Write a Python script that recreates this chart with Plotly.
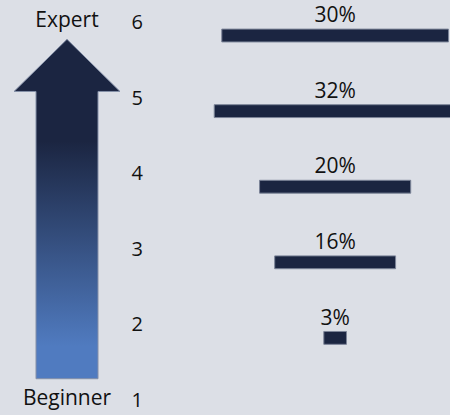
import plotly.graph_objects as go

# skill levels (1 = beginner, 6 = expert) and share of people at each level
levels = [6, 5, 4, 3, 2]
shares = [30, 32, 20, 16, 3]
share_labels = ['30%', '32%', '20%', '16%', '3%']
tick_vals = [1, 2, 3, 4, 5, 6]
tick_text = ['1', '2', '3', '4', '5', '6']

# arrow outline on the left (x in pixels of the side panel, y in level units)
arrow_x = [36, 36, 14, 67, 120, 98, 98, 36]
arrow_y = [1.28, 5.08, 5.08, 5.77, 5.08, 5.08, 1.28, 1.28]

NAVY = '#1b2541'
BLUE = '#507bc0'
BG = '#dcdfe6'
FONT = 'Open Sans'

fig = go.Figure()

# centred funnel-style bars
fig.add_trace(go.Bar(
    y=[lv - 0.18 for lv in levels],
    x=shares,
    base=[-s / 2 for s in shares],
    orientation='h',
    width=0.17,
    marker=dict(color=NAVY, line=dict(color='#7c8498', width=1)),
    hoverinfo='skip',
    showlegend=False,
))

# percentage labels above the bars
fig.add_trace(go.Scatter(
    x=[0] * len(levels),
    y=[lv + 0.065 for lv in levels],
    mode='text',
    text=share_labels,
    textfont=dict(family=FONT, size=21, color='#111111'),
    cliponaxis=False,
    hoverinfo='skip',
    showlegend=False,
))

# gradient arrow
fig.add_trace(go.Scatter(
    x=arrow_x, y=arrow_y,
    xaxis='x2', yaxis='y',
    mode='lines',
    fill='toself',
    line=dict(color='#8590a8', width=1),
    fillgradient=dict(
        type='vertical',
        start=1.28, stop=5.77,
        colorscale=[[0, BLUE], [0.095, BLUE], [0.7, NAVY], [1, NAVY]],
    ),
    hoverinfo='skip',
    showlegend=False,
))

# Expert / Beginner labels
fig.add_trace(go.Scatter(
    x=[67, 67], y=[6, 1],
    xaxis='x2', yaxis='y',
    mode='text',
    text=['Expert', 'Beginner'],
    textfont=dict(family=FONT, size=21, color='#111111'),
    cliponaxis=False,
    hoverinfo='skip',
    showlegend=False,
))

fig.update_layout(
    width=450, height=415,
    margin=dict(l=0, r=0, t=0, b=0),
    paper_bgcolor=BG, plot_bgcolor=BG,
    font=dict(family=FONT, size=20, color='#111111'),
    xaxis=dict(domain=[150 / 450, 1], range=[-24.5, 15.2], visible=False, fixedrange=True),
    xaxis2=dict(domain=[0, 150 / 450], range=[0, 150], visible=False, anchor='y', fixedrange=True),
    yaxis=dict(range=[0.8, 6.29], tickvals=tick_vals, ticktext=tick_text,
               showgrid=False, zeroline=False, showline=False, ticks='',
               ticklabelstandoff=6, anchor='x', fixedrange=True),
)

fig.write_html("out.html", config={'displayModeBar': False},
               post_script="document.body.style.margin='0';")
